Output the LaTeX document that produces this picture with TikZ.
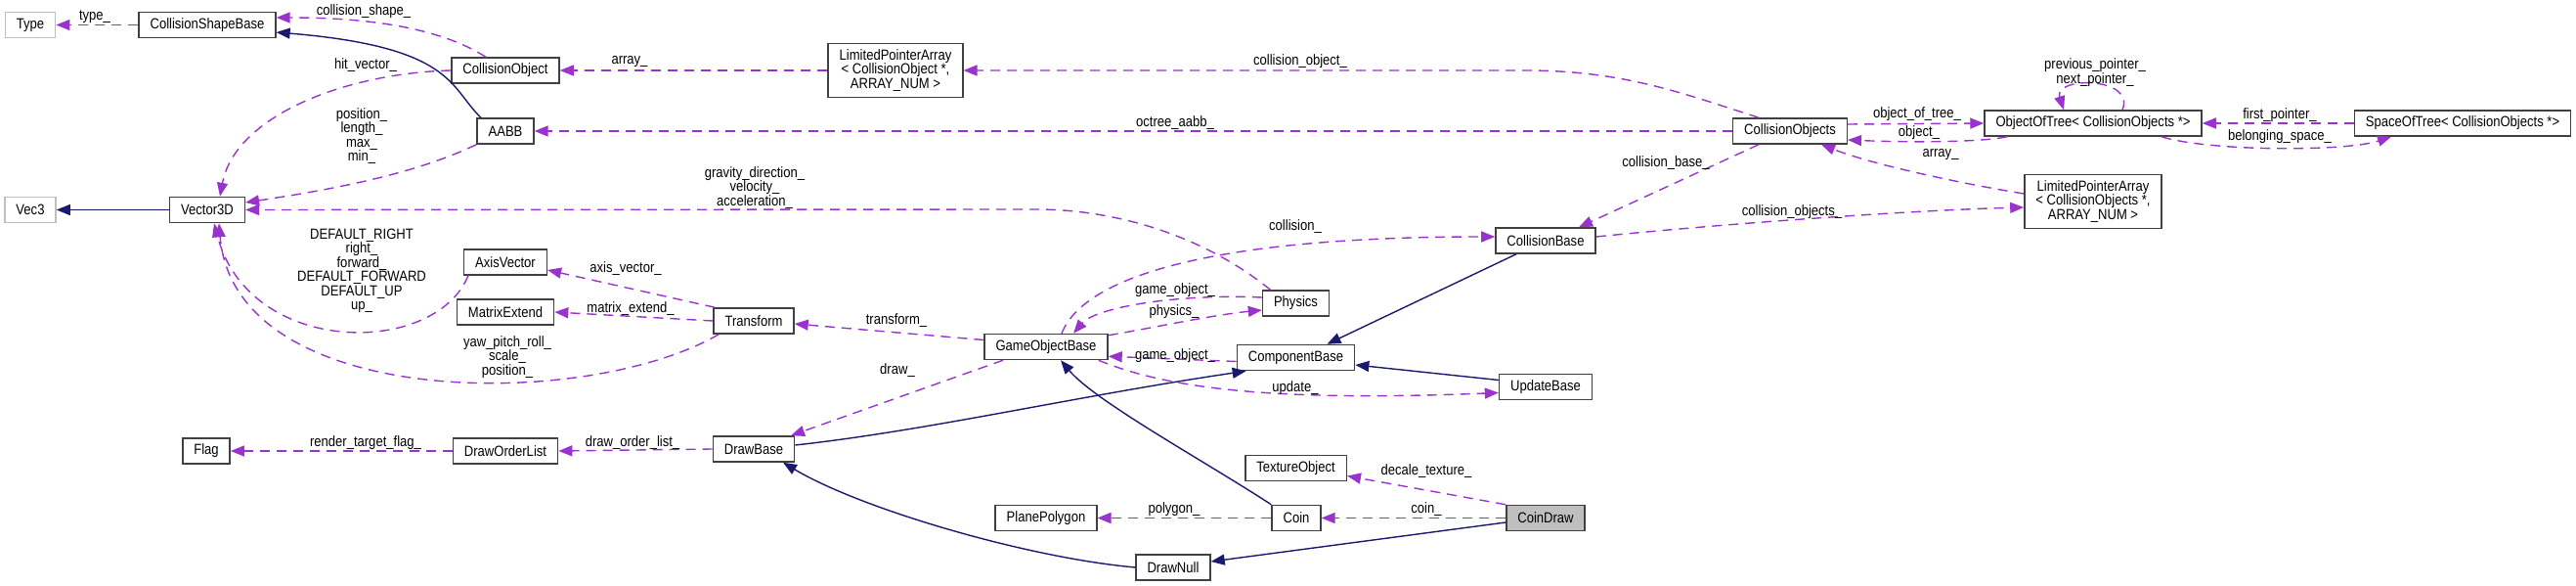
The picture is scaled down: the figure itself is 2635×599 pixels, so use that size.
\documentclass[tikz,border=0pt]{standalone}
\usepackage{fontspec}
\setmainfont[FakeStretch=0.87]{Liberation Sans}
\usepackage{tikz}
\usetikzlibrary{arrows.meta}

\definecolor{membercol}{RGB}{154,50,205}
\definecolor{inheritcol}{RGB}{25,25,112}
\definecolor{boxgray}{RGB}{191,191,191}

\begin{document}
\begin{tikzpicture}[x=0.5pt, y=-0.5pt, >=Triangle,
    every node/.style={font=\fontsize{7.5}{7.25}\selectfont},
    cls/.style={draw=black!75, line width=0.75pt, fill=white, minimum height=13pt, inner xsep=5.75pt, inner ysep=1pt},
    ext/.style={cls, draw=boxgray},
    tmpl/.style={cls, align=center, minimum height=27.5pt},
    lbl/.style={inner sep=0pt, align=center},
    member/.style={membercol, line width=0.7pt, dash pattern=on 5pt off 3.5pt, -{Triangle[length=7pt,width=5.5pt]}},
    inherit/.style={inheritcol, line width=0.7pt, -{Triangle[length=7pt,width=5.5pt]}}]
    \useasboundingbox (0,0) rectangle (2635,599);

    \node[ext] (type) at (31,25.5) {Type};
    \node[cls] (csb) at (212,25.5) {CollisionShapeBase};
    \node[cls] (cobj) at (517,72) {CollisionObject};
    \node[tmpl] (lpaobj) at (916,72) {LimitedPointerArray\\< CollisionObject *,\\ ARRAY\_NUM >};
    \node[cls] (aabb) at (517,134) {AABB};
    \node[cls] (cobjs) at (1831,134) {CollisionObjects};
    \node[cls] (oot) at (2141,126) {ObjectOfTree< CollisionObjects *>};
    \node[cls] (sot) at (2519,126) {SpaceOfTree< CollisionObjects *>};
    \node[tmpl] (lpacobjs) at (2141,206) {LimitedPointerArray\\< CollisionObjects *,\\ ARRAY\_NUM >};
    \node[ext] (vec3) at (31,214.5) {Vec3};
    \node[cls] (vec) at (212,214.5) {Vector3D};
    \node[cls] (axis) at (517,268) {AxisVector};
    \node[cls] (mat) at (517,319) {MatrixExtend};
    \node[cls] (trans) at (771,328) {Transform};
    \node[cls] (gob) at (1070,354.5) {GameObjectBase};
    \node[cls] (phys) at (1325.5,310) {Physics};
    \node[cls] (comp) at (1325.5,365.5) {ComponentBase};
    \node[cls] (cbase) at (1581,246) {CollisionBase};
    \node[cls] (upd) at (1581,395.5) {UpdateBase};
    \node[cls] (flag) at (211,461) {Flag};
    \node[cls] (dol) at (517,461) {DrawOrderList};
    \node[cls] (dbase) at (771,459) {DrawBase};
    \node[cls] (poly) at (1070,529.5) {PlanePolygon};
    \node[cls] (dnull) at (1200,580) {DrawNull};
    \node[cls] (tex) at (1325.5,478.5) {TextureObject};
    \node[cls] (coin) at (1326,529.5) {Coin};
    \node[cls, fill=boxgray] (cdraw) at (1581,529.5) {CoinDraw};

    \draw[inherit] (vec.west) -- (vec3.east);
    \draw[inherit] ([xshift=-12.5pt]aabb.north) .. controls (460,90) and (465,48) .. ([yshift=-3.75pt]csb.east);
    \draw[inherit] (coin.north west) .. controls (1230,470) and (1120,410) .. ([xshift=7.5pt]gob.south);
    \draw[inherit] ([yshift=2pt]dbase.east) .. controls (950,440) and (1100,405) .. ([xshift=5pt]comp.south west);
    \draw[inherit] ([xshift=-15pt]cbase.south) -- ([xshift=16pt]comp.north);
    \draw[inherit] ([yshift=3.5pt]upd.west) -- ([yshift=-3.75pt]comp.east);
    \draw[inherit] (dnull.west) .. controls (1050,570) and (880,520) .. ([xshift=15pt]dbase.south);
    \draw[inherit] ([yshift=-2.25pt]cdraw.west) -- ([yshift=3pt]dnull.east);

    \draw[member] (csb.west) -- (type.east);
    \draw[member] ([xshift=-10pt]cobj.north) .. controls (460,35) and (400,18) .. ([yshift=3.75pt]csb.east);
    \draw[member] (lpaobj.west) -- (cobj.east);
    \draw[member] (cobj.west) .. controls (350,75) and (240,120) .. ([xshift=6.5pt]vec.north);
    \draw[member] (aabb.south west) .. controls (420,180) and (330,195) .. ([yshift=3.75pt]vec.east);
    \draw[member] ([xshift=-13pt]phys.north) .. controls (1230,240) and (1140,214) .. (1060,214) -- (vec.east);
    \draw[member] ([xshift=-16pt]cobjs.north) .. controls (1720,95) and (1660,72) .. (1560,72) -- (lpaobj.east);
    \draw[member] (cobjs.west) -- (aabb.east);
    \draw[member] ([yshift=3.5pt]cobjs.east) -- (oot.west);
    \draw[member] ([xshift=-44pt]oot.south) .. controls (2030,145) and (1960,146) .. ([yshift=-4.5pt]cobjs.east);
    \draw[member] ([yshift=4pt]lpacobjs.west) .. controls (2020,190) and (1920,170) .. ([xshift=16pt]cobjs.south);
    \draw[member] ([xshift=-16pt]cobjs.south) -- ([xshift=17pt]cbase.north);
    \draw[member] ([yshift=2pt]cbase.east) .. controls (1750,230) and (1950,215) .. ([yshift=-3pt]lpacobjs.west);
    \draw[member] ([xshift=15pt]oot.north) .. controls (2185,78) and (2100,78) .. ([xshift=-15pt]oot.north);
    \draw[member] (sot.west) -- (oot.east);
    \draw[member] ([xshift=35pt]oot.south) .. controls (2260,155) and (2400,155) .. ([xshift=-36.5pt]sot.south);
    \draw[member] ([xshift=2.5pt]axis.south west) .. controls (445,365) and (255,365) .. ([xshift=3.5pt]vec.south);
    \draw[member] ([xshift=3pt]trans.south west) .. controls (600,420) and (240,420) .. ([xshift=6pt]vec.south);
    \draw[member] ([xshift=1pt]trans.north west) -- ([yshift=-4pt]axis.east);
    \draw[member] (trans.west) -- (mat.east);
    \draw[member] ([yshift=3.5pt]gob.west) -- ([yshift=-1.5pt]trans.east);
    \draw[member] ([yshift=-1pt]gob.north east) .. controls (1180,335) and (1240,322) .. ([yshift=-3.5pt]phys.west);
    \draw[member] ([yshift=3pt]phys.west) .. controls (1200,300) and (1120,315) .. ([xshift=14pt]gob.north);
    \draw[member] ([xshift=8pt]gob.north) .. controls (1110,280) and (1250,242) .. ([yshift=2pt]cbase.west);
    \draw[member] ([yshift=-2pt]comp.west) -- ([yshift=2pt]gob.south east);
    \draw[member] ([xshift=-5pt]gob.south east) .. controls (1200,400) and (1320,410) .. ([yshift=-3pt]upd.west);
    \draw[member] ([xshift=-22pt]gob.south) -- ([xshift=19pt]dbase.north);
    \draw[member] (dbase.west) -- (dol.east);
    \draw[member] (dol.west) -- (flag.east);
    \draw[member] (coin.west) -- (poly.east);
    \draw[member] (cdraw.north west) -- ([yshift=-4pt]tex.east);
    \draw[member] (cdraw.west) -- (coin.east);

    \node[lbl] (ltype) at (97,17) {type\_};
    \node[lbl] (lcshape) at (372,12) {collision\_shape\_};
    \node[lbl] (lhit) at (374,67) {hit\_vector\_};
    \node[lbl] (lpos) at (370,139) {position\_\\length\_\\max\_\\min\_};
    \node[lbl] (larray) at (644,63) {array\_};
    \node[lbl] (lcobj) at (1330,63) {collision\_object\_};
    \node[lbl] (loctree) at (1202,126) {octree\_aabb\_};
    \node[lbl] (lgrav) at (772,192) {gravity\_direction\_\\velocity\_\\acceleration\_};
    \node[lbl] (lobjtree) at (1961,117) {object\_of\_tree\_};
    \node[lbl] (lobject) at (1963,136) {object\_};
    \node[lbl] (larray2) at (1985,158) {array\_};
    \node[lbl] (lcbase) at (1704,167) {collision\_base\_};
    \node[lbl] (lprev) at (2143,74) {previous\_pointer\_\\next\_pointer\_};
    \node[lbl] (lfirst) at (2332,118) {first\_pointer\_};
    \node[lbl] (lbelong) at (2332,140) {belonging\_space\_};
    \node[lbl] (ldefault) at (370,277) {DEFAULT\_RIGHT\\right\_\\forward\_\\DEFAULT\_FORWARD\\DEFAULT\_UP\\up\_};
    \node[lbl] (laxis) at (640,275) {axis\_vector\_};
    \node[lbl] (lmatrix) at (645,316) {matrix\_extend\_};
    \node[lbl] (lyaw) at (519,365) {yaw\_pitch\_roll\_\\scale\_\\position\_};
    \node[lbl] (ltransform) at (917,328) {transform\_};
    \node[lbl] (lgobj) at (1202,297) {game\_object\_};
    \node[lbl] (lphysics) at (1201,319) {physics\_};
    \node[lbl] (lgobj2) at (1202,364) {game\_object\_};
    \node[lbl] (ldraw) at (918,379) {draw\_};
    \node[lbl] (lcollision) at (1325,232) {collision\_};
    \node[lbl] (lupdate) at (1325,397) {update\_};
    \node[lbl] (lcobjects) at (1833,217) {collision\_objects\_};
    \node[lbl] (lrender) at (374,453) {render\_target\_flag\_};
    \node[lbl] (ldrawlist) at (647,453) {draw\_order\_list\_};
    \node[lbl] (lpolygon) at (1201,521) {polygon\_};
    \node[lbl] (ldecale) at (1459,482) {decale\_texture\_};
    \node[lbl] (lcoin) at (1459,521) {coin\_};
\end{tikzpicture}
\end{document}
